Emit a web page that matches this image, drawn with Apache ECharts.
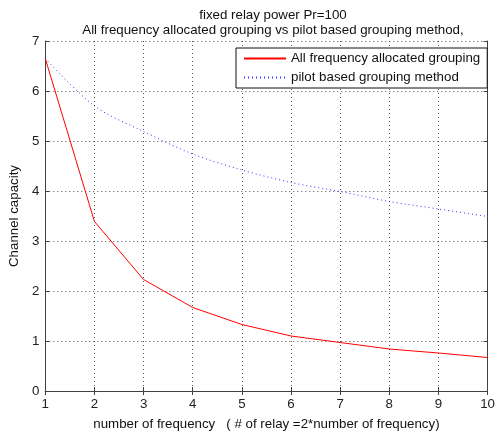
<!DOCTYPE html>
<html>
<head>
<meta charset="utf-8">
<script src="https://cdn.jsdelivr.net/npm/echarts@6/dist/echarts.min.js"></script>
<style>html,body{margin:0;padding:0;background:#fff}#c{width:498px;height:436px}</style>
</head>
<body>
<div id="c"></div>
<script>
var frequencies = [1, 2, 3, 4, 5, 6, 7, 8, 9, 10];
var allFreqGrouping = [6.65, 3.39, 2.23, 1.67, 1.33, 1.10, 0.97, 0.84, 0.76, 0.67];
var pilotGrouping = [6.65, 5.70, 5.19, 4.74, 4.42, 4.17, 3.99, 3.79, 3.64, 3.49];
var seriesNames = ['All frequency allocated grouping', 'pilot based grouping method'];
var titleLines = ['fixed relay power Pr=100', 'All frequency allocated grouping vs pilot based grouping method,'];
var xName = 'number of frequency   ( # of relay =2*number of frequency)';
var yName = 'Channel capacity';

function pairs(ys) { return frequencies.map(function (x, i) { return [x, ys[i]]; }); }

var font = 'Liberation Sans, Arial, sans-serif';
var fs = 13.3;
var axisCol = '#404040';
var grid = { left: 42, right: 4, top: 41, bottom: 44 };
var gridLine = { show: true, lineStyle: { color: '#555', type: [1, 3], width: 1 } };

var chart = echarts.init(document.getElementById('c'), null, { renderer: 'canvas' });
chart.setOption({
  animation: false,
  backgroundColor: '#fff',
  title: {
    text: titleLines.join('\n'),
    left: 268, top: 3, textAlign: 'center',
    textStyle: { fontFamily: font, fontSize: fs, fontWeight: 'normal', color: '#111', lineHeight: 15 }
  },
  grid: grid,
  legend: {
    orient: 'vertical', left: 236, top: 48,
    itemWidth: 42, itemHeight: 14, itemGap: 6,
    padding: [4, 7, 4, 7],
    borderColor: '#111', borderWidth: 1, backgroundColor: '#fff',
    itemStyle: { opacity: 0, borderWidth: 0 },
    textStyle: { fontFamily: font, fontSize: fs, color: '#111' },
    data: seriesNames
  },
  xAxis: [{
    type: 'value', min: 1, max: 10, interval: 1, position: 'bottom',
    name: xName, nameLocation: 'middle', nameGap: 27,
    nameTextStyle: { fontFamily: font, fontSize: fs, color: '#111' },
    axisLine: { show: true, onZero: false, lineStyle: { color: axisCol } },
    axisTick: { show: true, inside: true, length: 4, lineStyle: { color: axisCol } },
    axisLabel: { fontFamily: font, fontSize: fs, color: '#222', margin: 7 },
    splitLine: gridLine
  }, {
    type: 'value', min: 1, max: 10, interval: 1, position: 'top',
    axisLine: { show: true, lineStyle: { color: axisCol } },
    axisTick: { show: true, inside: true, length: 4, lineStyle: { color: axisCol } },
    axisLabel: { show: false }, splitLine: { show: false }
  }],
  yAxis: [{
    type: 'value', min: 0, max: 7, interval: 1, position: 'left',
    name: yName, nameLocation: 'middle', nameGap: 21,
    nameTextStyle: { fontFamily: font, fontSize: fs, color: '#111' },
    axisLine: { show: true, onZero: false, lineStyle: { color: axisCol } },
    axisTick: { show: true, inside: true, length: 4, lineStyle: { color: axisCol } },
    axisLabel: { fontFamily: font, fontSize: fs, color: '#222', margin: 6 },
    splitLine: gridLine
  }, {
    type: 'value', min: 0, max: 7, interval: 1, position: 'right',
    axisLine: { show: true, lineStyle: { color: axisCol } },
    axisTick: { show: true, inside: true, length: 4, lineStyle: { color: axisCol } },
    axisLabel: { show: false }, splitLine: { show: false }
  }],
  series: [{
    name: seriesNames[0], type: 'line', data: pairs(allFreqGrouping),
    symbol: 'none', lineStyle: { color: '#ff0000', width: 1 }, itemStyle: { color: '#ff0000' }
  }, {
    name: seriesNames[1], type: 'line', data: pairs(pilotGrouping),
    symbol: 'none', smooth: 0.3, lineStyle: { color: '#3333ff', width: 1, type: [1, 3] }, itemStyle: { color: '#3333ff' }
  }]
});
</script>
</body>
</html>
